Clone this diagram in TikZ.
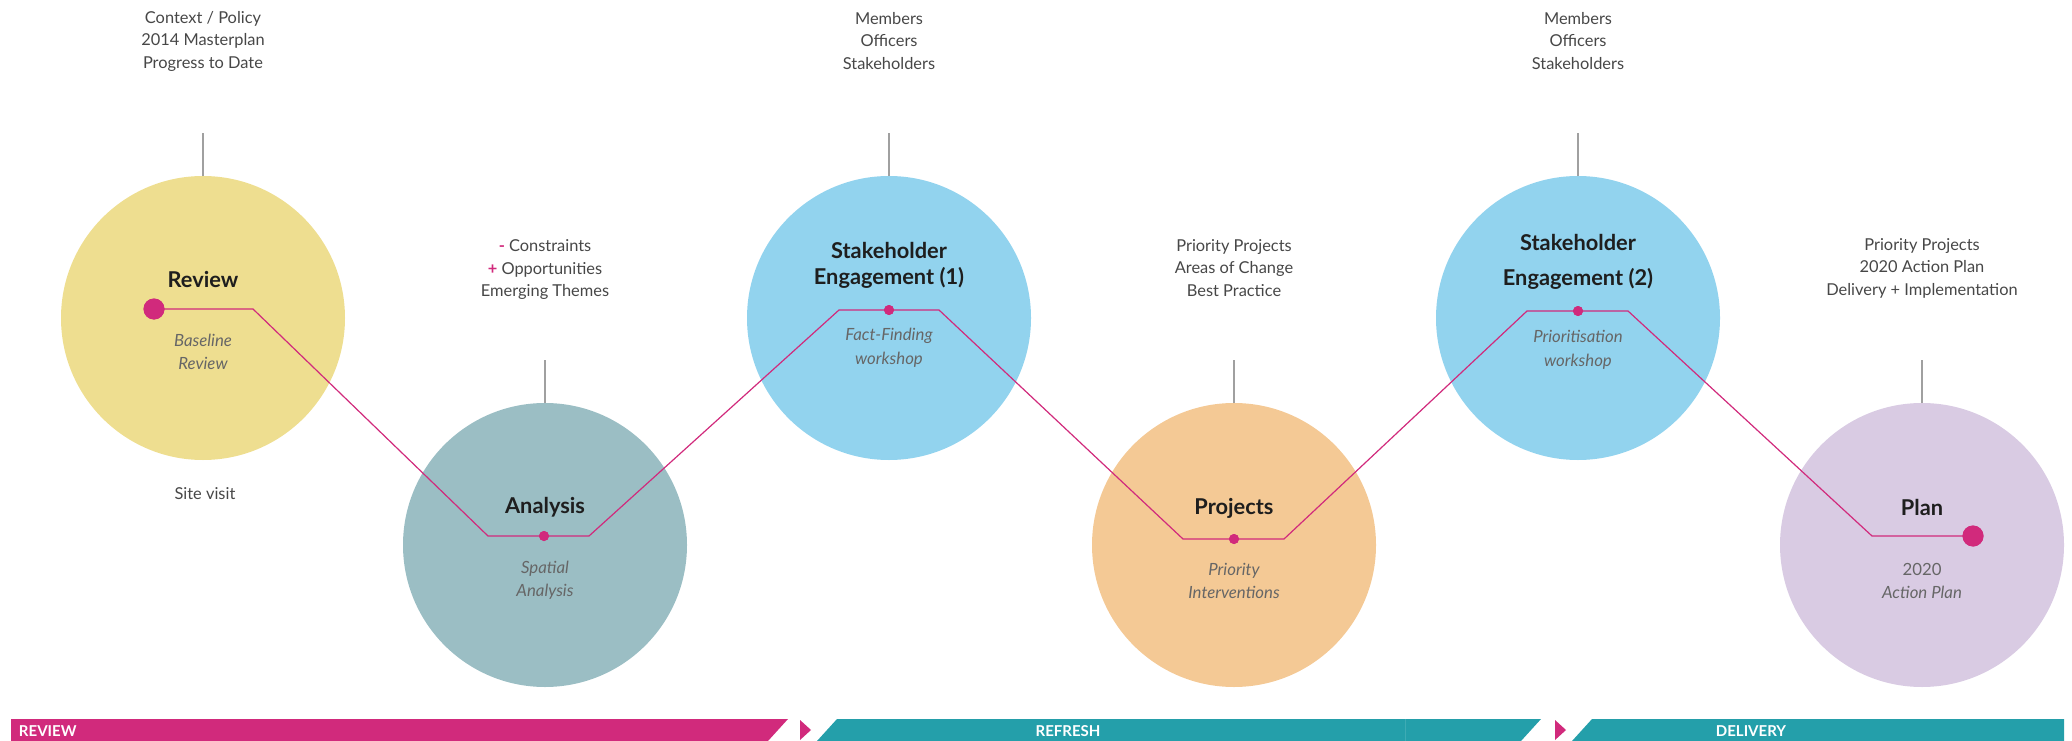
\documentclass[tikz,border=0pt]{standalone}
\usepackage{fontspec}
\setmainfont{Lato}
\usetikzlibrary{calc}

\definecolor{rev_yellow}{HTML}{EEDE90}
\definecolor{ana_teal}{HTML}{9BBEC4}
\definecolor{eng_blue}{HTML}{92D3EE}
\definecolor{proj_orange}{HTML}{F4C995}
\definecolor{plan_lilac}{HTML}{D9CBE3}
\definecolor{mag}{HTML}{D12A7C}
\definecolor{bar_teal}{HTML}{249FAA}
\definecolor{stub_gray}{HTML}{A0A0A0}
\definecolor{info_gray}{HTML}{474747}
\definecolor{sub_gray}{HTML}{666666}
\definecolor{title_black}{HTML}{1E1E1E}

\begin{document}
\begin{tikzpicture}[x=1pt, y=-1pt, inner sep=0pt, outer sep=0pt,
    stage/.style={circle, minimum size=284pt},
    info/.style={align=center, font=\fontsize{16.4}{22.5}\selectfont, text=info_gray},
    title/.style={align=center, font=\fontsize{21.8}{26}\selectfont\bfseries, text=title_black},
    sub/.style={align=center, font=\fontsize{16.8}{23.5}\selectfont\itshape, text=sub_gray},
    stub/.style={draw=stub_gray, line width=2.8pt},
    route/.style={draw=mag, line width=1.2pt},
    bigdot/.style={circle, fill=mag, minimum size=21pt},
    smalldot/.style={circle, fill=mag, minimum size=10pt},
    bartext/.style={font=\fontsize{15}{15}\selectfont\bfseries, text=white}]

    \useasboundingbox (0,0) rectangle (2072,741);

    % stage circles
    \node[stage, fill=rev_yellow] (review_c) at (203,318) {};
    \node[stage, fill=ana_teal] (analysis_c) at (545,545) {};
    \node[stage, fill=eng_blue] (eng1_c) at (889,318) {};
    \node[stage, fill=proj_orange] (projects_c) at (1234,545) {};
    \node[stage, fill=eng_blue] (eng2_c) at (1578,318) {};
    \node[stage, fill=plan_lilac] (plan_c) at (1922,545) {};

    % stubs
    \draw[stub] (review_c.north) -- ++(0,-43) coordinate (review_top);
    \draw[stub] (analysis_c.north) -- ++(0,-43) coordinate (analysis_top);
    \draw[stub] (eng1_c.north) -- ++(0,-43) coordinate (eng1_top);
    \draw[stub] (projects_c.north) -- ++(0,-43) coordinate (projects_top);
    \draw[stub] (eng2_c.north) -- ++(0,-43) coordinate (eng2_top);
    \draw[stub] (plan_c.north) -- ++(0,-43) coordinate (plan_top);

    % dots
    \node[bigdot] (review_dot) at ($(review_c)+(-49,-9)$) {};
    \node[smalldot] (analysis_dot) at ($(analysis_c)+(-1,-9)$) {};
    \node[smalldot] (eng1_dot) at ($(eng1_c)+(0,-8)$) {};
    \node[smalldot] (projects_dot) at ($(projects_c)+(0,-6)$) {};
    \node[smalldot] (eng2_dot) at ($(eng2_c)+(0,-7)$) {};
    \node[bigdot] (plan_dot) at ($(plan_c)+(51,-9)$) {};

    % route
    \draw[route] (review_dot.center) -- ($(review_c)+(50,-9)$)
        -- ($(analysis_dot)+(-56,0)$) -- ($(analysis_dot)+(45,0)$)
        -- ($(eng1_dot)+(-50,0)$) -- ($(eng1_dot)+(50,0)$)
        -- ($(projects_dot)+(-51,0)$) -- ($(projects_dot)+(50,0)$)
        -- ($(eng2_dot)+(-51,0)$) -- ($(eng2_dot)+(50,0)$)
        -- ($(plan_c)+(-50,-9)$) -- (plan_dot.center);
    \node[bigdot] at (review_dot) {};
    \node[bigdot] at (plan_dot) {};
    \node[smalldot] at (analysis_dot) {};
    \node[smalldot] at (eng1_dot) {};
    \node[smalldot] at (projects_dot) {};
    \node[smalldot] at (eng2_dot) {};

    % titles
    \node[title] (review_t) at ($(review_c)+(0,-39)$) {Review};
    \node[title] (analysis_t) at ($(analysis_c)+(0,-38)$) {Analysis};
    \node[title] (eng1_t) at ($(eng1_c)+(0,-53)$) {Stakeholder\\Engagement (1)};
    \node[title, font=\fontsize{21.8}{35}\selectfont\bfseries] (eng2_t) at ($(eng2_c)+(0,-56)$) {Stakeholder\\Engagement (2)};
    \node[title] (projects_t) at ($(projects_c)+(0,-37)$) {Projects};
    \node[title] (plan_t) at ($(plan_c)+(0,-38)$) {Plan};

    % sub-titles
    \node[sub] (review_s) at ($(review_c)+(0,34)$) {Baseline\\Review};
    \node[sub] (analysis_s) at ($(analysis_c)+(0,35)$) {Spatial\\Analysis};
    \node[sub] (eng1_s) at ($(eng1_c)+(0,30)$) {Fact-Finding\\workshop};
    \node[sub] (eng2_s) at ($(eng2_c)+(0,32)$) {Prioritisation\\workshop};
    \node[sub] (projects_s) at ($(projects_c)+(0,36)$) {Priority\\Interventions};
    \node[sub] (plan_s) at ($(plan_c)+(0,36)$) {\upshape 2020\\Action Plan};

    % inputs
    \node[info] (review_i) at ($(review_top)+(0,-92)$) {Context / Policy\\2014 Masterplan\\Progress to Date};
    \node[info] (analysis_i) at ($(analysis_top)+(0,-90)$) {\textcolor{mag}{\bfseries -} Constraints\\\textcolor{mag}{\bfseries +} Opportunities\\Emerging Themes};
    \node[info] (eng1_i) at ($(eng1_top)+(0,-92)$) {Members\\Officers\\Stakeholders};
    \node[info] (projects_i) at ($(projects_top)+(0,-92)$) {Priority Projects\\Areas of Change\\Best Practice};
    \node[info] (eng2_i) at ($(eng2_top)+(0,-92)$) {Members\\Officers\\Stakeholders};
    \node[info] (plan_i) at ($(plan_top)+(0,-92)$) {Priority Projects\\2020 Action Plan\\Delivery + Implementation};
    \node[info] (site_i) at ($(review_c)+(2,176)$) {Site visit};

    % phase bar
    \fill[mag] (11,719) -- (788,719) -- (768,741) -- (11,741) -- cycle;
    \fill[mag] (800,720) -- (811,730) -- (800,740) -- cycle;
    \fill[bar_teal] (837,719) -- (1541,719) -- (1521,741) -- (817,741) -- cycle;
    \draw[white!12!bar_teal, line width=0.8pt] (1405,719) -- (1405,741);
    \fill[mag] (1555,720) -- (1566,730) -- (1555,740) -- cycle;
    \fill[bar_teal] (1592,719) -- (2064,719) -- (2064,741) -- (1572,741) -- cycle;
    \node[bartext, anchor=west] (review_b) at (19,731) {REVIEW};
    \node[bartext] (refresh_b) at (1068,731) {REFRESH};
    \node[bartext] (delivery_b) at (1751,731) {DELIVERY};

\end{tikzpicture}
\end{document}
